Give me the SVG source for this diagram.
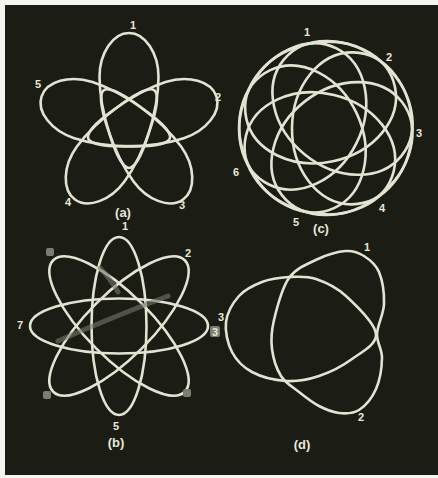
<svg xmlns="http://www.w3.org/2000/svg" width="438" height="478" viewBox="0 0 438 478">
<style>
.c{fill:none;stroke:#e4e2d2;stroke-width:2.6}
.g{fill:none;stroke:#77766a;stroke-width:5;opacity:.6;stroke-linecap:round}
.t{font-family:"Liberation Sans",Arial,sans-serif;font-weight:bold;font-size:11px;fill:#e8e6da;text-anchor:middle}
.l{font-family:"Liberation Sans",Arial,sans-serif;font-weight:bold;font-size:13px;fill:#e8e6da;text-anchor:middle}
.b{fill:#7d7c70}
</style>
<defs>
  <path id="petal" d="M0,-92 C16,-92 29.5,-72 29.5,-48 C29.5,-15 12,43 0,43 C-12,43 -29.5,-15 -29.5,-48 C-29.5,-72 -16,-92 0,-92 Z"/>
</defs>
<rect width="438" height="478" fill="#f4f4f0"/>
<rect x="5" y="5" width="433" height="470" fill="#1b1d15"/>

<g id="fig-a">
  <g transform="translate(129,125)">
    <use href="#petal" class="c"/>
    <use href="#petal" class="c" transform="rotate(72)"/>
    <use href="#petal" class="c" transform="rotate(144)"/>
    <use href="#petal" class="c" transform="rotate(216)"/>
    <use href="#petal" class="c" transform="rotate(288)"/>
  </g>
  <text class="t" x="133" y="29">1</text>
  <text class="t" x="218" y="101">2</text>
  <text class="t" x="182" y="209">3</text>
  <text class="t" x="68" y="206">4</text>
  <text class="t" x="38" y="88">5</text>
  <text class="l" x="123" y="217">(a)</text>
</g>

<g id="fig-c">
  <g transform="translate(326,128)">
    <ellipse class="c" cx="26" cy="0" rx="60" ry="76" transform="rotate(-102)"/>
    <ellipse class="c" cx="26" cy="0" rx="60" ry="76" transform="rotate(-50.6)"/>
    <ellipse class="c" cx="26" cy="0" rx="60" ry="76" transform="rotate(0.8)"/>
    <ellipse class="c" cx="26" cy="0" rx="60" ry="76" transform="rotate(52.2)"/>
    <ellipse class="c" cx="26" cy="0" rx="60" ry="76" transform="rotate(103.6)"/>
    <ellipse class="c" cx="26" cy="0" rx="60" ry="76" transform="rotate(155)"/>
    <ellipse class="c" cx="26" cy="0" rx="60" ry="76" transform="rotate(206.4)"/>
  </g>
  <text class="t" x="307" y="36">1</text>
  <text class="t" x="389" y="61">2</text>
  <text class="t" x="419" y="137">3</text>
  <text class="t" x="382" y="212">4</text>
  <text class="t" x="296" y="226">5</text>
  <text class="t" x="236" y="176">6</text>
  <text class="l" x="321" y="233">(c)</text>
</g>

<g id="fig-b">
  <g transform="translate(119,326)">
    <ellipse class="c" cx="0" cy="0" rx="89" ry="27.5"/>
    <ellipse class="c" cx="0" cy="0" rx="93" ry="32" transform="rotate(45)"/>
    <ellipse class="c" cx="0" cy="0" rx="89" ry="27.5" transform="rotate(90)"/>
    <ellipse class="c" cx="0" cy="0" rx="93" ry="32" transform="rotate(135)"/>
  </g>
  <path class="g" d="M58,341 Q110,318 168,296 M100,268 Q110,278 118,292"/>
  <rect class="b" x="46" y="248" width="8" height="8" rx="2"/>
  <rect class="b" x="43" y="391" width="8" height="8" rx="2"/>
  <rect class="b" x="183" y="389" width="8" height="8" rx="2"/>
  <rect class="b" x="210" y="326" width="10" height="11" rx="2"/>
  <text class="t" x="125" y="230">1</text>
  <text class="t" x="188" y="257">2</text>
  <text class="t" x="215" y="336">3</text>
  <text class="t" x="116" y="430">5</text>
  <text class="t" x="20" y="329">7</text>
  <text class="l" x="116" y="447">(b)</text>
</g>

<g id="fig-d">
  <path class="c" d="M226,322 C227.2,312.7 233,302.7 239,296 C245,289.3 253.7,285.2 262,282 C270.3,278.8 280,277.5 289,277 C298,276.5 306.5,275.8 316,279 C325.5,282.2 336,286.8 346,296 C356,305.2 375,323.5 376,334 C377,344.5 361.5,352 352,359 C342.5,366 330,372.3 319,376 C308,379.7 297.2,381.7 286,381 C274.8,380.3 261,376.8 252,372 C243,367.2 236.3,360.3 232,352 C227.7,343.7 224.8,331.3 226,322 Z"/>
  <path class="c" d="M346,251 C353.7,250.5 358.5,252.5 364,256 C369.5,259.5 375.7,264 379,272 C382.3,280 384.3,293.7 384,304 C383.7,314.3 377.3,325 377,334 C376.7,343 382.2,348.8 382,358 C381.8,367.2 379.8,380.3 376,389 C372.2,397.7 365.2,406 359,410 C352.8,414 345.7,413.7 339,413 C332.3,412.3 325.7,409.5 319,406 C312.3,402.5 305.3,397 299,392 C292.7,387 285.5,383.2 281,376 C276.5,368.8 273.2,358.3 272,349 C270.8,339.7 271.2,331.8 274,320 C276.8,308.2 281.7,288.2 289,278 C296.3,267.8 308.5,263.5 318,259 C327.5,254.5 338.3,251.5 346,251 Z"/>
  <text class="t" x="367" y="251">1</text>
  <text class="t" x="361" y="421">2</text>
  <text class="t" x="221" y="321">3</text>
  <text class="l" x="302" y="449">(d)</text>
</g>
</svg>
